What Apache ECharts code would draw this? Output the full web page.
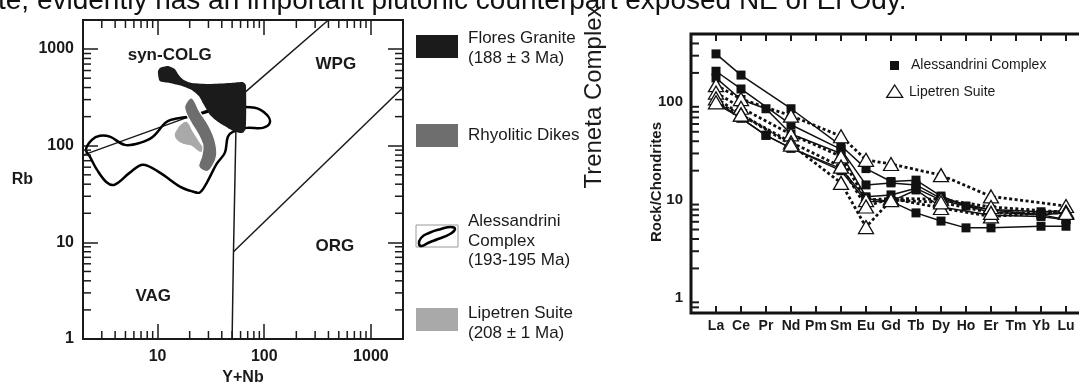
<!DOCTYPE html>
<html>
<head>
<meta charset="utf-8">
<script src="https://cdn.jsdelivr.net/npm/echarts@6/dist/echarts.min.js"></script>
<style>
  html, body { margin: 0; padding: 0; background: #fff; }
  #main { width: 1079px; height: 385px; }
</style>
</head>
<body>
<div id="main"></div>
<script>
// ---- left panel: Rb vs Y+Nb (Pearce) ----
var boundaryVagColg = [[2, 80], [55, 300]];
var boundaryColgWpg = [[55, 300], [400, 2000]];
var boundaryVagOrg = [[50, 1], [51.5, 8], [55, 300]];
var boundaryWpgOrg = [[51.5, 8], [2000, 400]];

var floresGranite = [[10.07, 580], [10.5, 637], [12.5, 668], [14.5, 622], [15.8, 540], [17.6, 479], [20.9, 446],
  [30.9, 436], [47.6, 446], [63, 457], [67.3, 425], [67.3, 153], [63, 136], [54.2, 139], [45.6, 153], [36.7, 177],
  [30.9, 209], [27.2, 265], [24.4, 327], [20.9, 378], [16.9, 416], [13, 446], [10.5, 468]];
var rhyoliticDikes = [[20.9, 312], [24.9, 224], [30.2, 161], [34.4, 115], [35.9, 80.7], [33, 62.2], [28.9, 54],
  [24.4, 60.8], [26, 78.9], [26.6, 100], [23.9, 133], [20.9, 169], [18.8, 209], [18, 258]];
var lipetrenField = [[15.2, 146], [16.5, 165], [18.8, 176], [21.4, 139], [24.9, 107], [27.2, 91], [24.9, 86.8],
  [20.9, 100], [17.3, 105], [15.2, 115], [14.5, 130]];
var alessandriniField = [[2.13, 91], [2.42, 115], [2.88, 127], [3.57, 124], [4.94, 102], [6.83, 107], [9.04, 124],
  [12.2, 177], [16.2, 194], [22.4, 204], [30.9, 229], [47.6, 247], [81.7, 247], [106, 209], [113, 173], [97, 153],
  [68.7, 153], [50.8, 139], [45.6, 124], [42.8, 84.8], [35.9, 65.2], [29, 41.6], [24.9, 32.8], [21.4, 33.6],
  [16.2, 37.8], [10.5, 52.7], [7.28, 63.7], [5.5, 52.7], [3.98, 39.6], [3.35, 41.6], [2.7, 56.6], [2.32, 77.1]];
var fieldLabels = [['syn-COLG', 13, 867], ['WPG', 469, 699], ['ORG', 459, 9.17], ['VAG', 9.1, 2.79]];

var leftMinorX = [3, 4, 5, 6, 7, 8, 9, 20, 30, 40, 50, 60, 70, 80, 90, 200, 300, 400, 500, 600, 700, 800, 900];
var leftMinorY = [2, 3, 4, 5, 6, 7, 8, 9, 20, 30, 40, 50, 60, 70, 80, 90, 200, 300, 400, 500, 600, 700, 800, 900];

// ---- right panel: REE / chondrite ----
var elements = ['La', 'Ce', 'Pr', 'Nd', 'Pm', 'Sm', 'Eu', 'Gd', 'Tb', 'Dy', 'Ho', 'Er', 'Tm', 'Yb', 'Lu'];
var alessandrini = [
  [313, 190, null, 86, null, 36, 21, 15.5, 16, 11, 8.7, 8, null, 7.6, 7.8],
  [208, 137, null, 59, null, 33, 14.3, 15, 14.3, 10.4, null, 7.9, null, 7.1, 7.4],
  [178, 107, 86, 47.5, null, 30, 10.8, 11.3, 13.2, 10, null, 7.5, null, 7.1, 6.3],
  [102, 69, 46, 34, null, 21, 10.4, 9.7, 12.7, 8.5, null, 7, null, 6.8, 6.3],
  [97, 69, 46, 34, null, 20, 9.7, 9.7, 7.4, 6.1, 5.2, 5.2, null, 5.4, 5.4]
];
var lipetren = [
  [150, 108, null, 73, null, 45, 25.8, 23.4, null, 18, null, 10.9, null, null, 8.7],
  [126, 88, null, 47, null, 28, 10, 10.4, null, 10.2, null, 8.5, null, null, 7.5],
  [110, 75, null, 39, null, 22, 8.6, 10.4, null, 8.3, null, 6.8, null, null, 7.6],
  [100, 75, null, 37, null, 15, 5.3, 10, null, 9.5, null, 7.4, null, null, 7.4]
];
var rightMinorY = [0.8, 0.9, 2, 3, 4, 5, 6, 7, 8, 9, 20, 30, 40, 50, 60, 70, 80, 90, 200, 300, 400];

var FONT = '"Liberation Sans", Arial, sans-serif';
var INK = '#1a1a1a';

// one empty slot each side so the frame sits a step outside La and Lu
var elemAxis = [''].concat(elements, ['']);
function pad(arr) { return [null].concat(arr, [null]); }

var chart = echarts.init(document.getElementById('main'));

function blob(points, style, z, smooth) {
  return {
    type: 'custom', xAxisIndex: 0, yAxisIndex: 0, z: z, silent: true,
    data: points,
    renderItem: function (params, api) {
      if (params.dataIndex !== 0) return;
      return {
        type: 'polygon',
        shape: { points: points.map(function (p) { return api.coord(p); }), smooth: smooth },
        style: style
      };
    }
  };
}

function boundary(points) {
  return {
    type: 'line', xAxisIndex: 0, yAxisIndex: 0, data: points, showSymbol: false, silent: true, z: 2,
    lineStyle: { color: INK, width: 1.5 }
  };
}

// minor ticks on a log axis, drawn inward from both frame sides
function minorTicksX(values, xi, yi, yLo, yHi, len, w) {
  return {
    type: 'custom', xAxisIndex: xi, yAxisIndex: yi, silent: true, z: 3,
    data: values.map(function (v) { return [v, yLo]; }),
    renderItem: function (params, api) {
      var a = api.coord([api.value(0), yLo]);
      var b = api.coord([api.value(0), yHi]);
      var st = { stroke: INK, lineWidth: w };
      return { type: 'group', children: [
        { type: 'line', shape: { x1: a[0], y1: a[1], x2: a[0], y2: a[1] - len }, style: st },
        { type: 'line', shape: { x1: b[0], y1: b[1], x2: b[0], y2: b[1] + len }, style: st }
      ] };
    }
  };
}
function minorTicksY(values, xi, yi, xLo, xHi, len, w) {
  return {
    type: 'custom', xAxisIndex: xi, yAxisIndex: yi, silent: true, z: 3,
    data: values.map(function (v) { return [xLo, v]; }),
    renderItem: function (params, api) {
      var a = api.coord([xLo, api.value(1)]);
      var b = api.coord([xHi, api.value(1)]);
      var st = { stroke: INK, lineWidth: w };
      return { type: 'group', children: [
        { type: 'line', shape: { x1: a[0], y1: a[1], x2: a[0] + len, y2: a[1] }, style: st },
        { type: 'line', shape: { x1: b[0], y1: b[1], x2: b[0] - len, y2: b[1] }, style: st }
      ] };
    }
  };
}

var intLabel = function (v) { return String(Math.round(v * 10) / 10); };

var series = [
  boundary(boundaryVagColg), boundary(boundaryColgWpg), boundary(boundaryVagOrg), boundary(boundaryWpgOrg),
  blob(alessandriniField, { fill: 'none', stroke: '#000', lineWidth: 2.5 }, 3, 0.35),
  blob(lipetrenField, { fill: '#a9a9a9' }, 4, 0.35),
  blob(rhyoliticDikes, { fill: '#6e6e6e', stroke: '#fff', lineWidth: 1.2 }, 5, 0.35),
  blob(floresGranite, { fill: '#1b1b1b' }, 6, 0.2),
  {
    type: 'custom', xAxisIndex: 0, yAxisIndex: 0, silent: true, z: 7,
    data: fieldLabels.map(function (d) { return [d[1], d[2], d[0]]; }),
    renderItem: function (params, api) {
      var p = api.coord([api.value(0), api.value(1)]);
      return { type: 'text', x: p[0], y: p[1], style: {
        text: fieldLabels[params.dataIndex][0], fill: INK, font: 'bold 17px ' + FONT,
        align: 'center', verticalAlign: 'middle' } };
    }
  },
  minorTicksX(leftMinorX, 0, 0, 1, 2000, 8, 1.5),
  minorTicksY(leftMinorY, 0, 0, 2, 2000, 8, 1.5),
  minorTicksY(rightMinorY, 2, 2, 0, elemAxis.length - 1, 8, 2)
];

alessandrini.forEach(function (row) {
  series.push({
    type: 'line', name: 'Alessandrini Complex', xAxisIndex: 2, yAxisIndex: 2, data: pad(row),
    connectNulls: true, symbol: 'rect', symbolSize: 9, z: 4,
    lineStyle: { color: '#111', width: 1.5 }, itemStyle: { color: '#111' }
  });
});
lipetren.forEach(function (row) {
  series.push({
    type: 'line', name: 'Lipetren Suite', xAxisIndex: 2, yAxisIndex: 2, data: pad(row),
    connectNulls: true, symbol: 'triangle', symbolSize: [15, 13], z: 5,
    lineStyle: { color: '#111', width: 2.8, type: [3, 2.5] },
    itemStyle: { color: '#fff', borderColor: '#111', borderWidth: 1.3 }
  });
});

var tickLeft = { inside: true, length: 15, lineStyle: { color: INK, width: 1.5 } };
var tickRight = { inside: true, length: 15, lineStyle: { color: INK, width: 2 } };
var boldLabel = { color: INK, fontWeight: 'bold', fontFamily: FONT };

var option = {
  animation: false,
  textStyle: { fontFamily: FONT },
  grid: [
    { left: 83, top: 20, width: 320, height: 319, show: true, borderColor: INK, borderWidth: 2,
      backgroundColor: 'transparent', outerBoundsMode: 'none', containLabel: false },
    { left: 691, top: 34, width: 400, height: 279, show: true, borderColor: '#111', borderWidth: 3,
      backgroundColor: 'transparent', outerBoundsMode: 'none', containLabel: false }
  ],
  xAxis: [
    { gridIndex: 0, type: 'log', min: 2, max: 2000, position: 'bottom',
      axisLine: { show: false }, axisTick: tickLeft, splitLine: { show: false },
      axisLabel: Object.assign({ fontSize: 16, margin: 10, showMinLabel: false, showMaxLabel: false,
        formatter: intLabel }, boldLabel),
      name: 'Y+Nb', nameLocation: 'middle', nameGap: 31,
      nameTextStyle: Object.assign({ fontSize: 16 }, boldLabel) },
    { gridIndex: 0, type: 'log', min: 2, max: 2000, position: 'top',
      axisLine: { show: false }, axisTick: tickLeft, splitLine: { show: false }, axisLabel: { show: false } },
    { gridIndex: 1, type: 'category', data: elemAxis, boundaryGap: false, position: 'bottom',
      axisLine: { show: false }, splitLine: { show: false },
      axisTick: { inside: true, length: 7, interval: 0, lineStyle: { color: INK, width: 2 } },
      axisLabel: Object.assign({ fontSize: 14, margin: 6, interval: 0 }, boldLabel) },
    { gridIndex: 1, type: 'category', data: elemAxis, boundaryGap: false, position: 'top',
      axisLine: { show: false }, splitLine: { show: false },
      axisTick: { inside: true, length: 7, interval: 0, lineStyle: { color: INK, width: 2 } },
      axisLabel: { show: false } }
  ],
  yAxis: [
    { gridIndex: 0, type: 'log', min: 1, max: 2000, position: 'left',
      axisLine: { show: false }, axisTick: tickLeft, splitLine: { show: false },
      axisLabel: Object.assign({ fontSize: 16, margin: 9, showMinLabel: true, showMaxLabel: false,
        formatter: intLabel }, boldLabel),
      name: 'Rb', nameLocation: 'middle', nameGap: 50, nameRotate: 0,
      nameTextStyle: Object.assign({ fontSize: 16 }, boldLabel) },
    { gridIndex: 0, type: 'log', min: 1, max: 2000, position: 'right',
      axisLine: { show: false }, axisTick: tickLeft, splitLine: { show: false }, axisLabel: { show: false } },
    { gridIndex: 1, type: 'log', min: 0.7, max: 500, position: 'left',
      axisLine: { show: false }, axisTick: tickRight, splitLine: { show: false },
      axisLabel: Object.assign({ fontSize: 15, margin: 8, showMinLabel: false, showMaxLabel: false,
        formatter: intLabel }, boldLabel) },
    { gridIndex: 1, type: 'log', min: 0.7, max: 500, position: 'right',
      axisLine: { show: false }, axisTick: tickRight, splitLine: { show: false }, axisLabel: { show: false } }
  ],
  graphic: [
    { type: 'text', x: -2, y: 1, silent: true, style: {
      text: 'te, evidently has an important plutonic counterpart exposed NE of El Ody.',
      font: '28px ' + FONT, fill: '#111', verticalAlign: 'middle' } },
    // left legend
    { type: 'rect', shape: { x: 416, y: 35, width: 42, height: 23 }, style: { fill: '#1b1b1b' } },
    { type: 'rect', shape: { x: 416, y: 124, width: 42, height: 23 }, style: { fill: '#6e6e6e' } },
    { type: 'rect', shape: { x: 416, y: 225, width: 42, height: 22 },
      style: { fill: '#fff', stroke: '#9a9a9a', lineWidth: 1 } },
    { type: 'polygon', shape: { smooth: 0.5, points: [[419, 244], [421, 238], [429, 233], [441, 229], [451, 227],
      [455, 229], [450, 234], [438, 239], [428, 243], [422, 246]] },
      style: { fill: 'none', stroke: '#000', lineWidth: 2.5 } },
    { type: 'rect', shape: { x: 416, y: 308, width: 42, height: 23 }, style: { fill: '#a9a9a9' } },
    { type: 'text', x: 468, y: 28, style: { text: 'Flores Granite\n(188 \u00b1 3 Ma)', font: '17px ' + FONT,
      fill: INK, lineHeight: 20 } },
    { type: 'text', x: 468, y: 125, style: { text: 'Rhyolitic Dikes', font: '17px ' + FONT, fill: INK, lineHeight: 20 } },
    { type: 'text', x: 468, y: 212, style: { text: 'Alessandrini\nComplex\n(193-195 Ma)', font: '17px ' + FONT,
      fill: INK, lineHeight: 19.5 } },
    { type: 'text', x: 468, y: 303, style: { text: 'Lipetren Suite\n(208 \u00b1 1 Ma)', font: '17px ' + FONT,
      fill: INK, lineHeight: 20 } },
    { type: 'text', x: 594, y: 97, rotation: Math.PI / 2, style: { text: 'Treneta Complex', font: '24px ' + FONT,
      fill: INK, align: 'center', verticalAlign: 'middle' } },
    // right panel axis title and legend
    { type: 'text', x: 657, y: 182, rotation: Math.PI / 2, style: { text: 'Rock/Chondrites',
      font: 'bold 15px ' + FONT, fill: INK, align: 'center', verticalAlign: 'middle' } },
    { type: 'rect', shape: { x: 890, y: 61, width: 9, height: 9 }, style: { fill: '#111' } },
    { type: 'text', x: 911, y: 65, style: { text: 'Alessandrini Complex', font: '14px ' + FONT, fill: INK,
      verticalAlign: 'middle' } },
    { type: 'polygon', shape: { points: [[894.7, 85], [902.7, 97.3], [886.7, 97.3]] },
      style: { fill: '#fff', stroke: '#111', lineWidth: 1.3 } },
    { type: 'text', x: 909, y: 92, style: { text: 'Lipetren Suite', font: '14px ' + FONT, fill: INK,
      verticalAlign: 'middle' } }
  ],
  series: series
};

chart.setOption(option);
</script>
</body>
</html>
